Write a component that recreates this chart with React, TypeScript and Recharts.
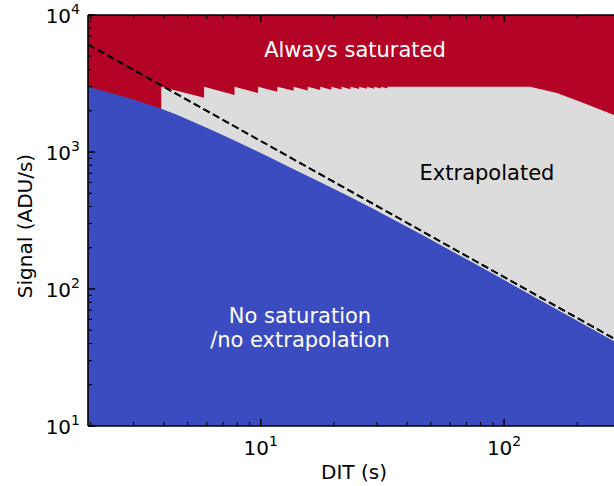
import React from 'react';
import { ComposedChart, Area, Line, XAxis, YAxis } from 'recharts';

// ---- data ----
const ditRed = [1.95, 283];
const sigRed = [10000, 10000];

const ditGrey = [3.9, 5.85, 5.85, 7.8, 7.8, 9.75, 9.75, 11.7, 11.7, 13.65, 13.65, 15.6, 15.6, 17.55, 17.55, 19.5, 19.5, 21.45, 21.45, 23.4, 23.4, 25.35, 25.35, 27.3, 27.3, 29.25, 29.25, 31.2, 31.2, 33.15, 33.15, 128, 136, 165, 212, 283];
const sigGrey = [3000, 2490, 3000, 2610, 3000, 2690, 3000, 2750, 3000, 2795, 3000, 2810, 3000, 2830, 3000, 2850, 3000, 2860, 3000, 2870, 3000, 2880, 3000, 2890, 3000, 2900, 3000, 2905, 3000, 2910, 3000, 3000, 2925, 2690, 2275, 1860];

const ditBlue = [1.95, 3.93, 6.9, 12.95, 23, 60, 113, 283];
const sigBlue = [3000, 2060, 1340, 785, 475, 192, 103, 41.5];

const ditRef = [1.95, 283];
const sigRef = [6100, 43.5];

const xTicks = [2, 3, 4, 5, 6, 7, 8, 9, 10, 20, 30, 40, 50, 60, 70, 80, 90, 100, 200];
const yTicks = [10, 20, 30, 40, 50, 60, 70, 80, 90, 100, 200, 300, 400, 500, 600, 700, 800, 900, 1000, 2000, 3000, 4000, 5000, 6000, 7000, 8000, 9000, 10000];

const RED = '#B40426';
const GREY = '#DDDCDC';
const BLUE = '#3B4CC0';
const FONT = 'DejaVu Sans';

const toRows = (xs: number[], ys: number[]) => xs.map((d, i) => ({ dit: d, s: ys[i] }));
const redData = toRows(ditRed, sigRed);
const greyData = toRows(ditGrey, sigGrey);
const blueData = toRows(ditBlue, sigBlue);
const refData = toRows(ditRef, sigRef);

const isDecade = (v: number) => Math.abs(Math.log10(v) - Math.round(Math.log10(v))) < 1e-9;

const BottomTick = (props: any) => {
  const { x, y, payload } = props;
  const v = payload.value;
  const major = isDecade(v);
  return (
    <g>
      <line x1={x} y1={y} x2={x} y2={y - (major ? 7 : 4)} stroke="#000" strokeWidth={major ? 1.5 : 1.1} />
      {major && (
        <text x={x} y={y + 29} textAnchor="middle" fontFamily={FONT} fontSize={20} fill="#000">
          <tspan>10</tspan>
          <tspan dy={-9} fontSize={14}>{Math.round(Math.log10(v))}</tspan>
        </text>
      )}
    </g>
  );
};

const TopTick = (props: any) => {
  const { x, y, payload } = props;
  const major = isDecade(payload.value);
  return <line x1={x} y1={y} x2={x} y2={y + (major ? 7 : 4)} stroke="#000" strokeWidth={major ? 1.5 : 1.1} />;
};

const LeftTick = (props: any) => {
  const { x, y, payload } = props;
  const v = payload.value;
  const major = isDecade(v);
  return (
    <g>
      <line x1={x} y1={y} x2={x + (major ? 7 : 4)} y2={y} stroke="#000" strokeWidth={major ? 1.5 : 1.1} />
      {major && (
        <text x={x - 8} y={y + 8} textAnchor="end" fontFamily={FONT} fontSize={20} fill="#000">
          <tspan>10</tspan>
          <tspan dy={-9} fontSize={14}>{Math.round(Math.log10(v))}</tspan>
        </text>
      )}
    </g>
  );
};

const MARGIN = { top: 0, right: 0, bottom: 30, left: 28 };

const Axes = ({ show }: { show: boolean }) => [
  <XAxis
    key="xb"
    dataKey="dit"
    type="number"
    scale="log"
    domain={[1.95, 283]}
    allowDataOverflow
    ticks={xTicks}
    interval={0}
    height={30}
    tickSize={0}
    tickMargin={0}
    tickLine={false}
    axisLine={show ? { stroke: '#000', strokeWidth: 1.6 } : false}
    tick={show ? <BottomTick /> : false}
  />,
  <XAxis
    key="xt"
    xAxisId="top"
    orientation="top"
    dataKey="dit"
    type="number"
    scale="log"
    domain={[1.95, 283]}
    allowDataOverflow
    ticks={xTicks}
    interval={0}
    height={15}
    tickSize={0}
    tickMargin={0}
    tickLine={false}
    axisLine={show ? { stroke: '#000', strokeWidth: 1.6 } : false}
    tick={show ? <TopTick /> : false}
  />,
  <YAxis
    key="yl"
    type="number"
    scale="log"
    domain={[10, 10000]}
    allowDataOverflow
    ticks={yTicks}
    interval={0}
    width={60}
    tickSize={0}
    tickMargin={0}
    tickLine={false}
    axisLine={show ? { stroke: '#000', strokeWidth: 1.6 } : false}
    tick={show ? <LeftTick /> : false}
  />,
];

export default function App() {
  return (
    <div style={{ position: 'absolute', left: 0, top: 0, width: 614, height: 486, overflow: 'hidden', background: '#fff' }}>
      <div style={{ position: 'absolute', left: 0, top: 0 }}>
        <ComposedChart width={614} height={486} margin={MARGIN}>
          {Axes({ show: false })}
          <Area data={redData} dataKey="s" type="linear" fill={RED} fillOpacity={1} stroke="none" baseValue={10} isAnimationActive={false} dot={false} activeDot={false} />
          <Area data={greyData} dataKey="s" type="linear" fill={GREY} fillOpacity={1} stroke="none" baseValue={10} isAnimationActive={false} dot={false} activeDot={false} />
          <Area data={blueData} dataKey="s" type="monotone" fill={BLUE} fillOpacity={1} stroke="none" baseValue={10} isAnimationActive={false} dot={false} activeDot={false} />
          <Line data={refData} dataKey="s" type="linear" stroke="#000" strokeWidth={2.1} strokeDasharray="7.5 3.5" dot={false} activeDot={false} isAnimationActive={false} />
        </ComposedChart>
      </div>
      <div style={{ position: 'absolute', left: 0, top: 0, pointerEvents: 'none' }}>
        <ComposedChart width={614} height={486} margin={MARGIN}>
          {Axes({ show: true })}
          <Line data={refData} dataKey="s" type="linear" stroke="none" strokeWidth={0} dot={false} activeDot={false} isAnimationActive={false} />
        </ComposedChart>
      </div>
      <svg width={614} height={486} style={{ position: 'absolute', left: 0, top: 0, pointerEvents: 'none' }}>
        <text x={355} y={57} textAnchor="middle" fontFamily={FONT} fontSize={21} fill="#fff">Always saturated</text>
        <text x={487} y={180} textAnchor="middle" fontFamily={FONT} fontSize={21} fill="#000">Extrapolated</text>
        <text x={300} y={323} textAnchor="middle" fontFamily={FONT} fontSize={21} fill="#fff">No saturation</text>
        <text x={300} y={347} textAnchor="middle" fontFamily={FONT} fontSize={21} fill="#fff">/no extrapolation</text>
        <text x={354} y={479} textAnchor="middle" fontFamily={FONT} fontSize={20} fill="#000">DIT (s)</text>
        <text x={0} y={0} transform="translate(32,226) rotate(-90)" textAnchor="middle" fontFamily={FONT} fontSize={20} fill="#000">Signal (ADU/s)</text>
      </svg>
    </div>
  );
}
